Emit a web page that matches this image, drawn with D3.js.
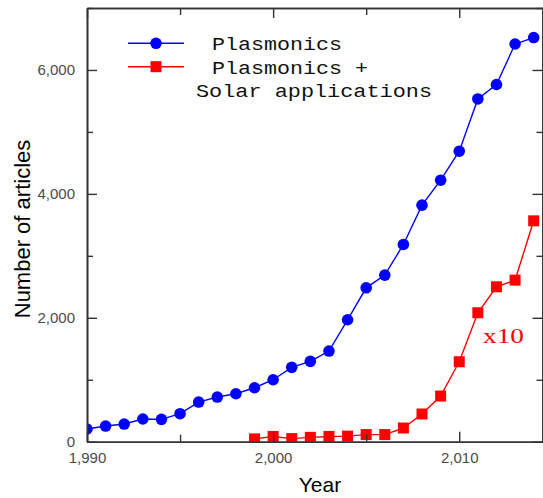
<!DOCTYPE html>
<html>
<head>
<meta charset="utf-8">
<script src="https://cdn.jsdelivr.net/npm/d3@7"></script>
<style>
  body { margin: 0; background: #fff; }
  svg { display: block; }
</style>
</head>
<body>
<div id="chart"></div>
<script>
// data
var years = d3.range(1990, 2015);
var plasmonics = [205, 253, 285, 366, 361, 452, 640, 721, 774, 871, 1000,
    1200, 1297, 1463, 1968, 2484, 2689, 3184, 3818, 4221, 4689, 5532, 5765, 6419, 6523];
var solarYears = d3.range(1999, 2015);
var solarX10 = [45, 85, 50, 70, 85, 90, 115, 115, 221, 447, 737, 1290, 2081, 2500, 2608, 3565];
var yMajor = [0, 2000, 4000, 6000];
var yMinor = [1000, 3000, 5000, 7000];
var xMajor = [1990, 2000, 2010];
var xMinor = [1995, 2005];

var width = 543, height = 498;
var plotLeft = 87, plotRight = 543, plotTop = 8, plotBottom = 441.7;

var svg = d3.select("#chart")
    .append("svg")
    .attr("width", width)
    .attr("height", height);

var x = d3.scaleLinear().domain([1990, 2014.5]).range([plotLeft, plotRight]);
var y = d3.scaleLinear().domain([0, 7000]).range([plotBottom, plotTop]);

svg.append("clipPath").attr("id", "plotclip")
    .append("rect")
    .attr("x", plotLeft).attr("y", plotTop)
    .attr("width", plotRight - plotLeft).attr("height", plotBottom - plotTop);

var plot = svg.append("g").attr("clip-path", "url(#plotclip)");

var line = d3.line()
    .x(function (d) { return x(d[0]); })
    .y(function (d) { return y(d[1]); });

var blueData = years.map(function (yr, i) { return [yr, plasmonics[i]]; });
var redData = solarYears.map(function (yr, i) { return [yr, solarX10[i]]; });

plot.append("path")
    .datum(redData)
    .attr("d", line)
    .attr("fill", "none")
    .attr("stroke", "#ff0000")
    .attr("stroke-width", 1.4);

plot.selectAll("rect.sq")
    .data(redData)
    .enter()
    .append("rect")
    .attr("class", "sq")
    .attr("x", function (d) { return x(d[0]) - 5.5; })
    .attr("y", function (d) { return y(d[1]) - 5.5; })
    .attr("width", 11)
    .attr("height", 11)
    .attr("fill", "#ff0000");

plot.append("path")
    .datum(blueData)
    .attr("d", line)
    .attr("fill", "none")
    .attr("stroke", "#0000ff")
    .attr("stroke-width", 1.4);

plot.selectAll("circle")
    .data(blueData)
    .enter()
    .append("circle")
    .attr("cx", function (d) { return x(d[0]); })
    .attr("cy", function (d) { return y(d[1]); })
    .attr("r", 5.8)
    .attr("fill", "#0000ff");

// axes
var fmt = d3.format(",");
var axisColor = "#333";

function styleAxis(g) {
    g.select(".domain").attr("stroke", axisColor).attr("stroke-width", 1.6);
    g.selectAll(".tick line").attr("stroke", axisColor).attr("stroke-width", 1.4);
    g.selectAll(".tick text")
        .attr("fill", "#4a4a4a")
        .style("font-family", "'Liberation Sans', Arial, sans-serif")
        .style("font-size", "15px");
}

svg.append("g")
    .attr("transform", "translate(" + plotLeft + ",0)")
    .call(d3.axisLeft(y).tickValues(yMajor).tickFormat(fmt).tickSizeInner(-10).tickSizeOuter(0).tickPadding(12))
    .call(styleAxis);
svg.append("g")
    .attr("transform", "translate(" + plotLeft + ",0)")
    .call(d3.axisLeft(y).tickValues(yMinor).tickFormat("").tickSizeInner(-6).tickSizeOuter(0))
    .call(styleAxis);

svg.append("g")
    .attr("transform", "translate(" + (plotRight - 0.5) + ",0)")
    .call(d3.axisRight(y).tickValues(yMajor).tickFormat("").tickSizeInner(-10).tickSizeOuter(0))
    .call(styleAxis);
svg.append("g")
    .attr("transform", "translate(" + (plotRight - 0.5) + ",0)")
    .call(d3.axisRight(y).tickValues(yMinor).tickFormat("").tickSizeInner(-6).tickSizeOuter(0))
    .call(styleAxis);

svg.append("g")
    .attr("transform", "translate(0," + plotBottom + ")")
    .call(d3.axisBottom(x).tickValues(xMajor).tickFormat(fmt).tickSizeInner(-10).tickSizeOuter(0).tickPadding(11))
    .call(styleAxis);
svg.append("g")
    .attr("transform", "translate(0," + plotBottom + ")")
    .call(d3.axisBottom(x).tickValues(xMinor).tickFormat("").tickSizeInner(-7).tickSizeOuter(0))
    .call(styleAxis);

svg.append("g")
    .attr("transform", "translate(0," + plotTop + ")")
    .call(d3.axisTop(x).tickValues(xMajor).tickFormat("").tickSizeInner(-10).tickSizeOuter(0))
    .call(styleAxis);
svg.append("g")
    .attr("transform", "translate(0," + plotTop + ")")
    .call(d3.axisTop(x).tickValues(xMinor).tickFormat("").tickSizeInner(-7).tickSizeOuter(0))
    .call(styleAxis);

// axis titles
svg.append("text")
    .attr("x", 320)
    .attr("y", 492)
    .attr("text-anchor", "middle")
    .style("font-family", "'Liberation Sans', Arial, sans-serif")
    .style("font-size", "21px")
    .attr("fill", "#000")
    .text("Year");

svg.append("text")
    .attr("transform", "translate(30,229) rotate(-90)")
    .attr("text-anchor", "middle")
    .style("font-family", "'Liberation Sans', Arial, sans-serif")
    .style("font-size", "22px")
    .attr("fill", "#000")
    .text("Number of articles");

// legend
var legend = svg.append("g");
var legendItems = [
    { color: "#0000ff", shape: "circle", y: 43.3 },
    { color: "#ff0000", shape: "square", y: 66.7 }
];
legendItems.forEach(function (d) {
    legend.append("line")
        .attr("x1", 128).attr("x2", 184)
        .attr("y1", d.y).attr("y2", d.y)
        .attr("stroke", d.color)
        .attr("stroke-width", 1.4);
    if (d.shape === "circle") {
        legend.append("circle").attr("cx", 156).attr("cy", d.y).attr("r", 5.8).attr("fill", d.color);
    } else {
        legend.append("rect").attr("x", 150.5).attr("y", d.y - 5.5).attr("width", 11).attr("height", 11).attr("fill", d.color);
    }
});

var legendText = [
    { t: "Plasmonics", x: 212, y: 50, w: 130 },
    { t: "Plasmonics +", x: 212, y: 73.5, w: 156 },
    { t: "Solar applications", x: 196, y: 97, w: 236 }
];
legend.selectAll("text")
    .data(legendText)
    .enter()
    .append("text")
    .attr("x", function (d) { return d.x; })
    .attr("y", function (d) { return d.y; })
    .attr("textLength", function (d) { return d.w; })
    .attr("lengthAdjust", "spacingAndGlyphs")
    .style("font-family", "'Liberation Mono', 'Courier New', monospace")
    .style("font-size", "19px")
    .attr("fill", "#111")
    .text(function (d) { return d.t; });

svg.append("text")
    .attr("x", 483)
    .attr("y", 343)
    .attr("textLength", 41)
    .attr("lengthAdjust", "spacingAndGlyphs")
    .style("font-family", "'Liberation Serif', 'Times New Roman', serif")
    .style("font-size", "20px")
    .attr("fill", "#ff0000")
    .text("x10");
</script>
</body>
</html>
